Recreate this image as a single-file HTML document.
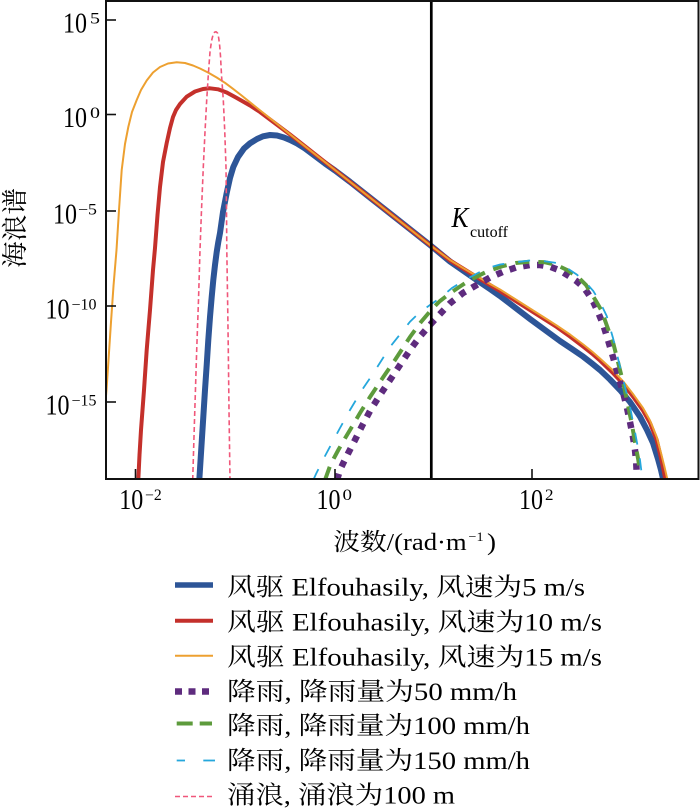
<!DOCTYPE html>
<html>
<head>
<meta charset="utf-8">
<style>
html,body{margin:0;padding:0;background:#fff;width:700px;height:809px;overflow:hidden}
svg{display:block}
text{font-family:"Liberation Serif","Noto Serif CJK SC",serif;fill:#000}
</style>
</head>
<body>
<svg width="700" height="809" viewBox="0 0 700 809" xmlns="http://www.w3.org/2000/svg" font-family="'Liberation Serif','Noto Serif CJK SC',serif">
<defs>
<clipPath id="plot"><rect x="107" y="2" width="591" height="476"/></clipPath>
</defs>

<g clip-path="url(#plot)" fill="none">
  <polyline stroke="#2d5597" stroke-width="6" stroke-linejoin="round" points="199.3,480 201.2,450 203.3,417 205,390 206.7,365 208.3,340 210,317 211.7,297 213.3,280 215,265 216.7,252 218.3,242 220,233 223,212 226.7,193 230,178 233.3,167 238,157 244,148.5 250,143.3 257,139 263,136.3 270,135 277,135.5 284,137.5 290,140 297,143.5 305,148.5 315,156 325,163.5 335,170.5 350,181.8 370,197.6 390,213.4 410,229.2 431,245.8 450,261.5 463,270.5 476.7,280 490,289 500,296 515,307.5 530,319 545,330 560,341 572,349 583.3,356.7 592,363.5 600,370 610,379.5 620,390 630,402 640,416.7 647,430 653,443 658,459 661,470 663.3,480"/>
  <polyline stroke="#c4302b" stroke-width="4" stroke-linejoin="round" points="138.3,480 139.5,455 141,430 142.5,410 144,390 146.7,350 148.5,328 150,310 151.5,290 153,270 155,248 157.5,215 160,187 163,162 166.7,143 170,128 173,117 176,110 180,104 186.7,96.7 195,91.5 203,89 210,88.3 218,89.3 226.7,92.5 235,97 243,101.5 250,105.5 260,112 270,119.5 280,127 290,134.5 300,142.3 350,181.8 400,221.3 431,245.8 450,260.5 463,268.5 476.7,277 490,285 500,291 515,300.5 530,310 545,319.5 556.7,327 570,336.5 583.3,346.7 592,353.5 600,360.5 612,372 623.3,384 633,396.5 643,410.5 650,423 656.7,440 661,458 663.5,470 665.5,480"/>
  <polyline stroke="#eda030" stroke-width="2" stroke-linejoin="round" points="105,408 106.5,390 108.5,360 111,322 113.5,286 116.5,250 119,210 121.7,170 125,144 128.3,127 132,112 136.7,100 141,90 146.7,80.5 153,72.5 160,67 168,63.5 176.7,62.3 185,63 193,65.5 200,68.5 208,72.5 216.7,77.5 225,82.8 233,88.8 241,95 250,102.3 300,142.3 350,181.8 400,221.3 431,245.8 450,260 463,268 476.7,276 490,284 500,289.5 515,299 530,308.5 545,318 556.7,325.5 570,334.5 583.3,344.5 592,351.5 600,358.5 612,369.5 623.3,381.5 633,394 643,408 650,420.5 656.7,437 661,453 664.5,467 667.5,480"/>
  <polyline stroke="#5e2b7e" stroke-width="6.5" stroke-dasharray="6.5 7.5" points="337,480 340,470 343.3,463 348.3,453 355,440 362,426 370,411 380,395 390,380 400,365 410,350 420,336.5 431.7,323 440,314 450,303.3 463,293 476.7,285 490,277.5 503.3,271.7 516,267.5 530,265 540,265 550,266.7 560,270.5 570,276.7 577,281.5 583.3,287 588,293.5 593.3,302 598,312 603.3,325 608,340 613.3,358 618,375 623.3,393.3 627,408 630,422 633,437 635,450 636.2,462 636.7,473"/>
  <polyline stroke="#5d9b3c" stroke-width="4" stroke-dasharray="14 9" points="325,480 330,466 334,458 338.3,450 344,440 350,430 360,413 370,397 383.3,377 395,360 410,337 421,322 432,309 440,301 450,293.3 460,286.5 470,280 486,272 503,266 516,263 530,261.7 545,262.3 556.7,265 568,270.5 580,279 586,285 590,291.5 596,301 601.7,311 607,326 613.3,343.3 618,362 623.3,383.3 627.5,403 631.7,423.3 635,442 638.3,460 640,472"/>
  <polyline stroke="#25a7dc" stroke-width="1.8" stroke-dasharray="12 14" points="313.3,480 316,474 320,466 325,456 330,446.7 340,428 350,410 362,390 373.3,373.3 390,347 410,321.7 420,312 430,305 440,298 452,288 466.7,279 486.7,268.3 500,264.5 513.3,262.5 530,260.5 540,260.5 556.7,263 566,267.5 576.7,274.5 583.3,280 588,285 593.3,291 600,302 606.7,316 613,338 620,366.7 625,387 630,406.7 635,432 638,448 640,460 641.5,472"/>
  <polyline stroke="#f0577a" stroke-width="1.6" stroke-dasharray="5 3" stroke-linejoin="round" points="192.7,480 194.5,420 196.7,350 198.5,300 200,250 201.5,210 203.3,167 205,132 206.7,100 208.5,72 210,52 211.5,41 213,35 214.5,32.3 216,31.7 217.5,33 218.7,38 219.7,46 220.5,56 221.5,75 223.3,100 224.7,130 226,167 226.5,210 226.8,250 227.6,300 228.3,350 229,410 230,480"/>
</g>

<line x1="431.3" y1="1" x2="431.3" y2="479" stroke="#000" stroke-width="2.7"/>

<rect x="106" y="1" width="592.5" height="478" fill="none" stroke="#111" stroke-width="2"/>

<g stroke="#111" stroke-width="1.6">
  <line x1="135.5" y1="479" x2="135.5" y2="469"/>
  <line x1="335" y1="479" x2="335" y2="469"/>
  <line x1="532" y1="479" x2="532" y2="469"/>
  <line x1="106" y1="20" x2="116" y2="20"/>
  <line x1="106" y1="114.5" x2="116" y2="114.5"/>
  <line x1="106" y1="211" x2="116" y2="211"/>
  <line x1="106" y1="306" x2="116" y2="306"/>
  <line x1="106" y1="402" x2="116" y2="402"/>
</g>

<text transform="translate(63,32.5) scale(1,1.18)" font-size="24">10</text>
<text transform="translate(90,23.5) scale(1,1.18)" font-size="13" textLength="10" lengthAdjust="spacingAndGlyphs">5</text>
<text transform="translate(63,127) scale(1,1.18)" font-size="24">10</text>
<text transform="translate(90,118) scale(1,1.18)" font-size="13" textLength="10" lengthAdjust="spacingAndGlyphs">0</text>
<text transform="translate(53,223.5) scale(1,1.18)" font-size="24">10</text>
<text transform="translate(78,214.5) scale(1,1.18)" font-size="13" textLength="19" lengthAdjust="spacingAndGlyphs">−5</text>
<text transform="translate(45.5,318.5) scale(1,1.18)" font-size="24">10</text>
<text transform="translate(71.5,309.5) scale(1,1.18)" font-size="13" textLength="25" lengthAdjust="spacingAndGlyphs">−10</text>
<text transform="translate(45.5,414.5) scale(1,1.18)" font-size="24">10</text>
<text transform="translate(71.5,405.5) scale(1,1.18)" font-size="13" textLength="25" lengthAdjust="spacingAndGlyphs">−15</text>

<text transform="translate(119.3,509) scale(1,1.18)" font-size="24">10</text>
<text transform="translate(145,500) scale(1,1.18)" font-size="13" textLength="16.7" lengthAdjust="spacingAndGlyphs">−2</text>
<text transform="translate(316.5,509) scale(1,1.18)" font-size="24">10</text>
<text transform="translate(342.5,500) scale(1,1.18)" font-size="13" textLength="9.5" lengthAdjust="spacingAndGlyphs">0</text>
<text transform="translate(519,509) scale(1,1.18)" font-size="24">10</text>
<text transform="translate(545,500) scale(1,1.18)" font-size="13" textLength="8.5" lengthAdjust="spacingAndGlyphs">2</text>

<text transform="translate(451.5,227) scale(1,1.15)" font-size="25" font-style="italic" textLength="17" lengthAdjust="spacingAndGlyphs">K</text>
<text x="470" y="237" font-size="16" textLength="38" lengthAdjust="spacingAndGlyphs">cutoff</text>

<text x="333.3" y="550" font-size="24" textLength="133.4" lengthAdjust="spacingAndGlyphs">波数/(rad·m</text>
<text x="468.5" y="541" font-size="13" textLength="15" lengthAdjust="spacingAndGlyphs">−1</text>
<text x="487" y="550" font-size="24" textLength="9" lengthAdjust="spacingAndGlyphs">)</text>
<text transform="translate(24,228) rotate(-90)" text-anchor="middle" font-size="26" textLength="80" lengthAdjust="spacingAndGlyphs">海浪谱</text>

<line x1="175" y1="585" x2="213" y2="585" stroke="#2d5597" stroke-width="5.5"/>
<line x1="175" y1="620.7" x2="213" y2="620.7" stroke="#c4302b" stroke-width="4"/>
<line x1="175" y1="655.7" x2="213" y2="655.7" stroke="#eda030" stroke-width="2"/>
<line x1="175" y1="691.5" x2="212" y2="691.5" stroke="#5e2b7e" stroke-width="6.5" stroke-dasharray="7 6.5"/>
<line x1="176.7" y1="723.5" x2="212" y2="723.5" stroke="#5d9b3c" stroke-width="4" stroke-dasharray="16 7"/>
<line x1="176.7" y1="760.5" x2="185" y2="760.5" stroke="#25a7dc" stroke-width="1.8"/>
<line x1="203.3" y1="760.5" x2="215" y2="760.5" stroke="#25a7dc" stroke-width="1.8"/>
<line x1="175" y1="796.5" x2="212" y2="796.5" stroke="#f0577a" stroke-width="1.6" stroke-dasharray="5 3"/>

<text x="227" y="595.5" font-size="25" textLength="358" lengthAdjust="spacingAndGlyphs">风驱 Elfouhasily, 风速为5 m/s</text>
<text x="227" y="630.5" font-size="25" textLength="375" lengthAdjust="spacingAndGlyphs">风驱 Elfouhasily, 风速为10 m/s</text>
<text x="227" y="665.3" font-size="25" textLength="375" lengthAdjust="spacingAndGlyphs">风驱 Elfouhasily, 风速为15 m/s</text>
<text x="227" y="700" font-size="25" textLength="290" lengthAdjust="spacingAndGlyphs">降雨, 降雨量为50 mm/h</text>
<text x="227" y="734" font-size="25" textLength="303" lengthAdjust="spacingAndGlyphs">降雨, 降雨量为100 mm/h</text>
<text x="227" y="768.8" font-size="25" textLength="303" lengthAdjust="spacingAndGlyphs">降雨, 降雨量为150 mm/h</text>
<text x="227" y="803.5" font-size="25" textLength="228" lengthAdjust="spacingAndGlyphs">涌浪, 涌浪为100 m</text>
</svg>
</body>
</html>
